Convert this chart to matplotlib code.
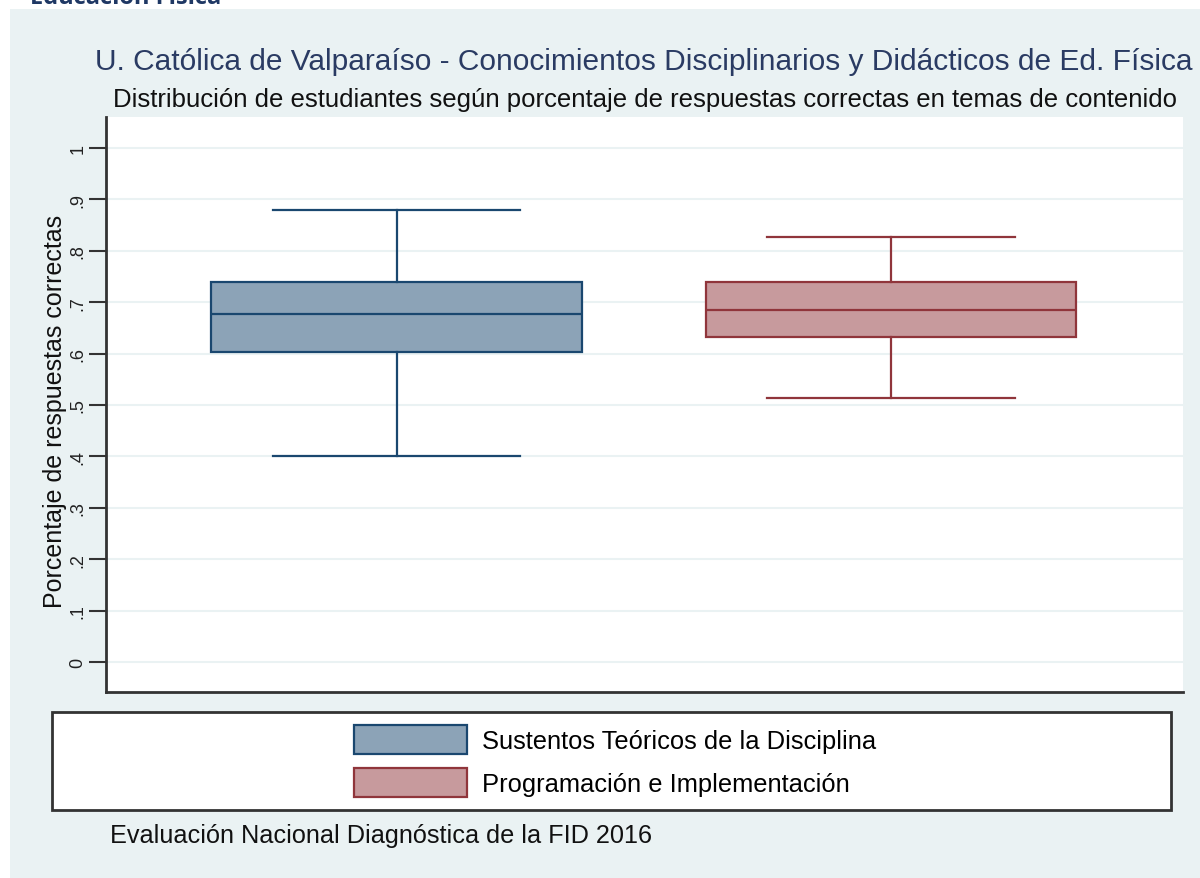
import matplotlib
matplotlib.use("Agg")
import matplotlib.pyplot as plt
from matplotlib.patches import Rectangle, Patch

# ---- data ----
categories = ["Sustentos Teóricos de la Disciplina", "Programación e Implementación"]
whislo = [0.401, 0.514]
q1 = [0.603, 0.632]
med = [0.677, 0.685]
q3 = [0.739, 0.739]
whishi = [0.879, 0.827]
yticks = [0, 0.1, 0.2, 0.3, 0.4, 0.5, 0.6, 0.7, 0.8, 0.9, 1.0]
yticklabels = ["0", ".1", ".2", ".3", ".4", ".5", ".6", ".7", ".8", ".9", "1"]

title = "U. Católica de Valparaíso - Conocimientos Disciplinarios y Didácticos de Ed. Física"
subtitle = "Distribución de estudiantes según porcentaje de respuestas correctas en temas de contenido"
ylabel = "Porcentaje de respuestas correctas"
note = "Evaluación Nacional Diagnóstica de la FID 2016"
header = "Educación Física"

edge_colors = ["#1A476F", "#90353B"]
fill_colors = ["#8CA3B7", "#C79A9D"]
BG = "#EAF2F3"

plt.rcParams['font.family'] = ['Liberation Sans', 'DejaVu Sans']

W, H = 1200, 879
fig = plt.figure(figsize=(W / 100, H / 100), dpi=100, facecolor="white")

def fx(px):
    return px / W

def fy(py):
    return 1 - py / H

# outer graph region
fig.patches.append(Rectangle((fx(10), 0), 1 - fx(10), fy(10), transform=fig.transFigure,
                             facecolor=BG, edgecolor="none", zorder=-10))

# cropped header text (cut off at the top, as in the reference)
fig.text(fx(30), fy(4), header, ha="left", va="baseline", fontsize=17, fontweight="bold",
         color="#1F3864", family=["Open Sans", "DejaVu Sans"])

ax = fig.add_axes([fx(106), fy(693), fx(1183) - fx(106), fy(118) - fy(693)])
ax.set_facecolor("white")

stats = []
for i, lab in enumerate(categories):
    stats.append(dict(label=lab, whislo=whislo[i], q1=q1[i], med=med[i], q3=q3[i],
                      whishi=whishi[i], fliers=[]))

for i, st in enumerate(stats):
    ec = edge_colors[i]
    ax.bxp([st], positions=[i + 1], widths=0.75, patch_artist=True, showfliers=False,
           boxprops=dict(facecolor=fill_colors[i], edgecolor=ec, linewidth=1.6),
           medianprops=dict(color=ec, linewidth=1.6),
           whiskerprops=dict(color=ec, linewidth=1.6),
           capprops=dict(color=ec, linewidth=1.6),
           capwidths=0.5, manage_ticks=False)

ax.set_xlim(0.4125, 2.5905)
ax.set_ylim(-0.0584, 1.0603)
ax.set_xticks([])
ax.set_yticks(yticks)
ax.set_yticklabels(yticklabels, rotation=90, va="center", fontsize=13, color="#222222")
ax.tick_params(axis="y", length=12, width=1.5, color="#333333", pad=2)
ax.yaxis.grid(True, color=BG, linewidth=1.5)
ax.set_axisbelow(True)
for s in ["top", "right"]:
    ax.spines[s].set_visible(False)
for s in ["left", "bottom"]:
    ax.spines[s].set_color("#333333")
    ax.spines[s].set_linewidth(2)
ax.set_ylabel(ylabel, fontsize=18, color="#111111", va="center")
ax.yaxis.set_label_coords((55 - 106) / (1183 - 106), (693 - 411) / (693 - 118))

fig.text(fx(644), fy(62), title, ha="center", va="center", fontsize=21.5, color="#2A3B63")
fig.text(fx(645), fy(100), subtitle, ha="center", va="center", fontsize=18.5, color="#111111")

# legend box
fig.patches.append(Rectangle((fx(52), fy(811)), fx(1171) - fx(52), fy(713) - fy(811),
                             transform=fig.transFigure, facecolor="white",
                             edgecolor="#333333", linewidth=2, zorder=1))
handles = [Patch(facecolor=fill_colors[i], edgecolor=edge_colors[i], linewidth=1.6,
                 label=categories[i]) for i in range(2)]
leg = fig.legend(handles=handles, loc="center", bbox_to_anchor=(fx(615), fy(762)),
                 frameon=False, fontsize=18.4, handlelength=4.45, handleheight=1.38,
                 handletextpad=0.59, labelspacing=0.52)
leg.set_zorder(2)

fig.text(fx(110), fy(836), note, ha="left", va="center", fontsize=18.2, color="#111111")

fig.savefig("out.png", dpi=100, facecolor="white")
